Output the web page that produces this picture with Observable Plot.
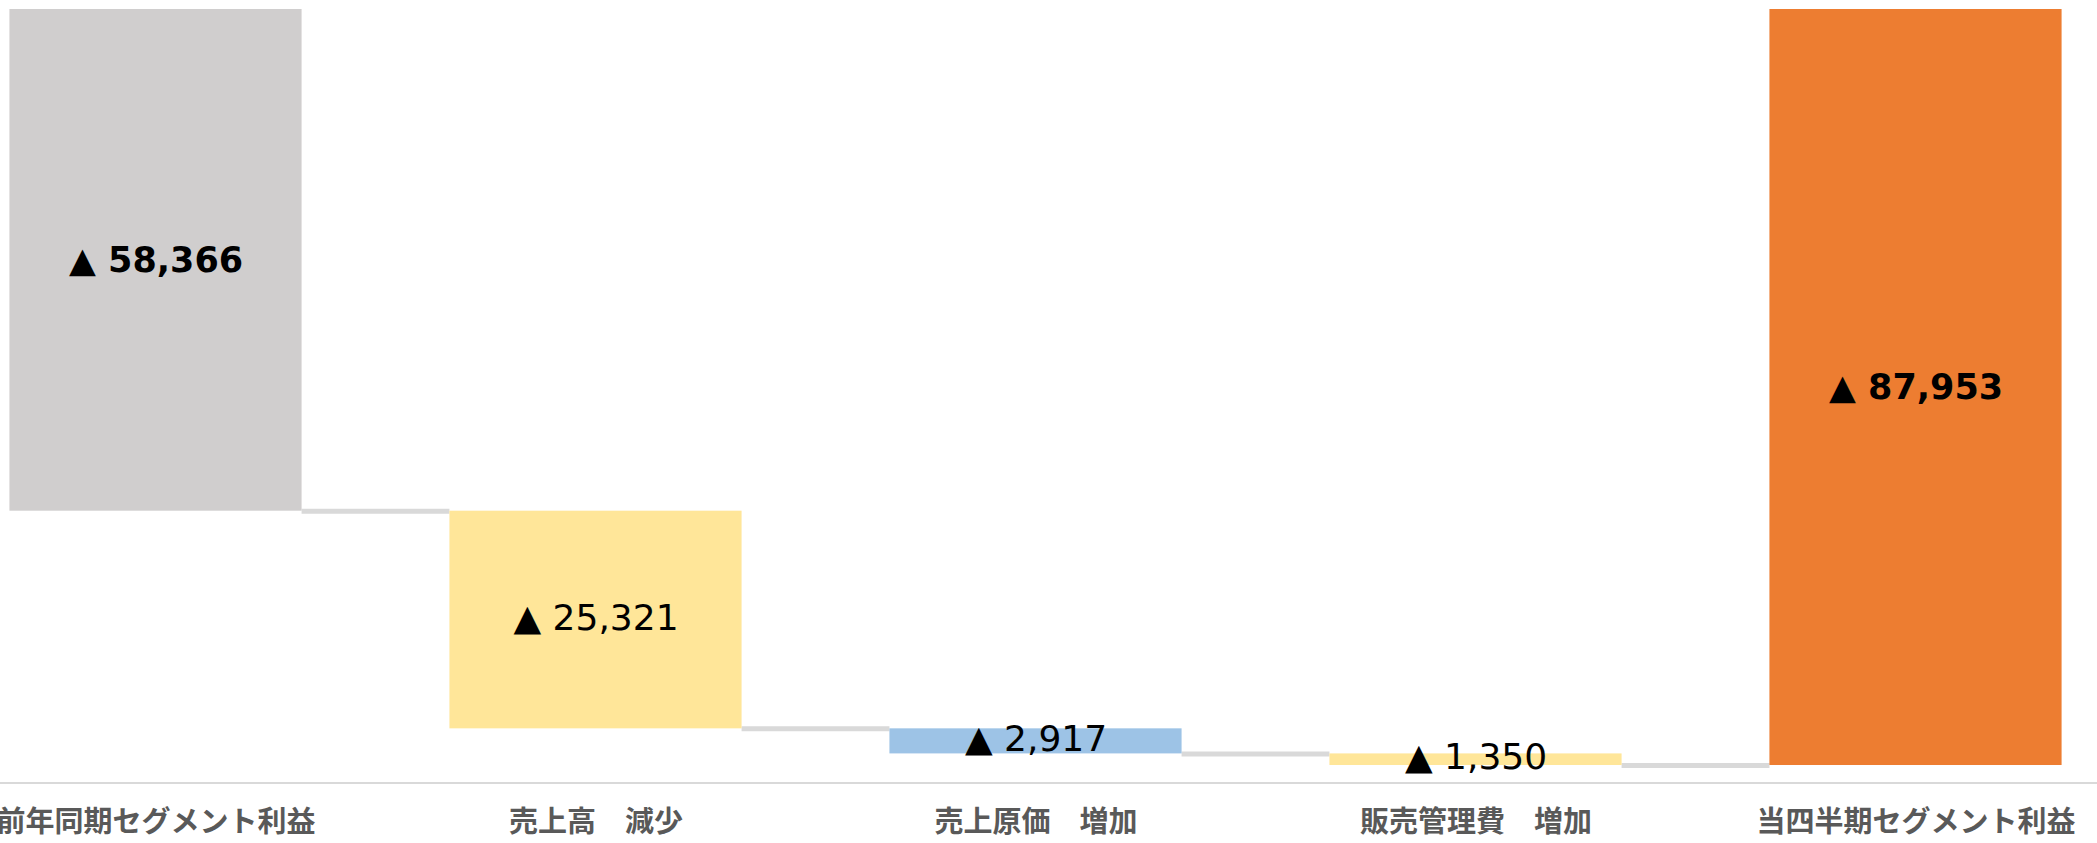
<!DOCTYPE html>
<html>
<head>
<meta charset="utf-8">
<script src="https://cdn.jsdelivr.net/npm/d3@7"></script>
<script src="https://cdn.jsdelivr.net/npm/@observablehq/plot@0.6"></script>
<style>
  html, body { margin: 0; padding: 0; background: #ffffff; overflow: hidden; }
  #chart svg { display: block; }
</style>
</head>
<body>
<div id="chart"></div>
<script>
// ---- data ----
const categories = ["前年同期セグメント利益", "売上高　減少", "売上原価　増加", "販売管理費　増加", "当四半期セグメント利益"];
const values = [-58366, -25321, -2917, -1350, -87953];
const kinds = ["total", "delta", "delta", "delta", "total"];
const axisBottomValue = -90000;

// ---- styling ----
const palette = ["#D0CECE", "#FFE699", "#9DC3E6", "#FFE699", "#ED7D31"];
const halfBar = 0.332;

// ---- build waterfall rows ----
let running = 0;
const rows = categories.map((cat, i) => {
  let y1, y2;
  if (kinds[i] === "total") { y1 = 0; y2 = values[i]; running = values[i]; }
  else { y1 = running; y2 = running + values[i]; running = y2; }
  return {
    i, cat, y1, y2, kind: kinds[i],
    label: (values[i] < 0 ? "▲ " : "") + d3.format(",")(Math.abs(values[i]))
  };
});
const connectors = rows.slice(0, -1).map(r => ({ i: r.i, y: r.y2 }));

const chart = Plot.plot({
  width: 2097,
  height: 843,
  marginLeft: 0, marginRight: 0, marginTop: 0, marginBottom: 0,
  style: { fontFamily: "DejaVu Sans, sans-serif", background: "#ffffff" },
  x: { type: "linear", domain: [-0.5, 4.5], range: [-64.5, 2135.5], axis: null },
  y: { domain: [axisBottomValue, 0], range: [782.6, 9], axis: null },
  color: { domain: categories, range: palette },
  marks: [
    Plot.ruleY([axisBottomValue], { stroke: "#D9D9D9", strokeWidth: 2 }),
    Plot.ruleY(connectors, {
      y: "y",
      x1: d => d.i + halfBar,
      x2: d => d.i + 1 - halfBar,
      stroke: "#D9D9D9",
      strokeWidth: 5
    }),
    Plot.rectY(rows, {
      x1: d => d.i - halfBar,
      x2: d => d.i + halfBar,
      y1: "y1",
      y2: "y2",
      fill: "cat"
    }),
    Plot.text(rows.filter(r => r.kind === "total"), {
      x: "i",
      y: d => (d.y1 + d.y2) / 2,
      text: "label",
      fontSize: 35,
      fontWeight: "bold",
      fill: "#000000"
    }),
    Plot.text(rows.filter(r => r.kind === "delta"), {
      x: "i",
      y: d => (d.y1 + d.y2) / 2,
      text: "label",
      fontSize: 36,
      dy: -2,
      fill: "#000000"
    }),
    Plot.text(rows, {
      x: "i",
      y: () => axisBottomValue,
      text: "cat",
      dy: 40,
      fontSize: 29,
      fontWeight: "bold",
      fontFamily: "Noto Sans CJK JP",
      fill: "#595959"
    })
  ]
});
document.getElementById("chart").appendChild(chart);
</script>
</body>
</html>
